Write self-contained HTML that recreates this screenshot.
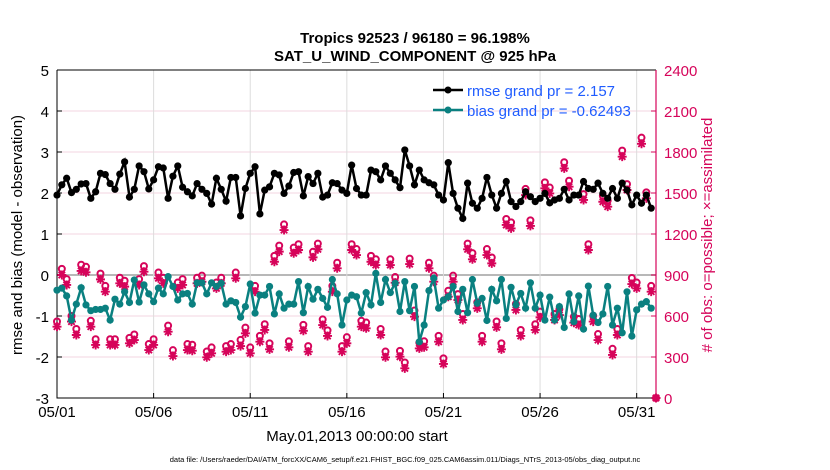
<!DOCTYPE html>
<html><head><meta charset="utf-8"><style>
body{margin:0;background:#fff;}
svg{display:block;font-family:"Liberation Sans",Arial,sans-serif;}
</style></head><body>
<svg id="chart" width="830" height="470" viewBox="0 0 830 470" xmlns="http://www.w3.org/2000/svg">
<rect width="830" height="470" fill="#fff"/>
<g id="grid"></g>
<g id="axes"></g>
<g id="series"></g>
<text x="415" y="43" text-anchor="middle" font-size="15" font-weight="bold">Tropics 92523 / 96180 = 96.198%</text>
<text x="415" y="61" text-anchor="middle" font-size="15" font-weight="bold">SAT_U_WIND_COMPONENT @ 925 hPa</text>
<text x="357" y="441" text-anchor="middle" font-size="15">May.01,2013 00:00:00 start</text>
<text transform="translate(22,235) rotate(-90)" text-anchor="middle" font-size="15">rmse and bias (model - observation)</text>
<text transform="translate(712,235) rotate(-90)" text-anchor="middle" font-size="15" fill="#d6045a">&#35; of obs: o=possible; &#215;=assimilated</text>
<text x="405" y="462" text-anchor="middle" font-size="7.5">data file: /Users/raeder/DAI/ATM_forcXX/CAM6_setup/f.e21.FHIST_BGC.f09_025.CAM6assim.011/Diags_NTrS_2013-05/obs_diag_output.nc</text>
<g id="legend">
<line x1="433" y1="90" x2="463" y2="90" stroke="#000" stroke-width="2.5"/>
<circle cx="448" cy="90" r="3.5" fill="#000"/>
<text x="467" y="96" font-size="15" fill="#1f5cff">rmse grand pr = 2.157</text>
<line x1="433" y1="110" x2="463" y2="110" stroke="#0a8080" stroke-width="2.5"/>
<circle cx="448" cy="110" r="3.5" fill="#0a8080"/>
<text x="467" y="116" font-size="15" fill="#1f5cff">bias grand pr = -0.62493</text>
</g>
</svg>
<script>
const rmse=[1.95,2.2,2.36,2.01,2.09,2.22,2.23,1.87,2.03,2.48,2.45,2.23,2.09,2.46,2.76,1.9,2.09,2.66,2.52,2.1,2.32,2.64,2.61,1.87,2.41,2.66,2.14,2.03,1.93,2.23,2.09,1.99,1.73,2.36,2.09,1.8,2.38,2.38,1.44,2.11,2.48,2.64,1.49,2.07,2.15,2.48,2.44,1.99,2.17,2.5,2.52,1.93,2.4,2.23,2.48,1.9,1.95,2.25,2.23,2.07,1.99,
2.68,2.11,1.95,1.95,2.56,2.52,2.32,2.66,2.48,2.32,2.13,3.05,2.66,2.2,2.56,2.32,2.25,2.2,1.95,1.83,2.74,1.99,1.63,1.38,2.24,1.75,1.63,1.87,2.38,1.95,1.63,1.99,2.28,1.79,1.67,1.79,2.03,1.91,1.79,1.87,1.99,1.76,1.83,1.87,2.09,1.83,1.95,1.95,2.28,2.11,2.09,2.24,1.99,1.87,2.11,1.87,2.24,2.07,1.71,1.95,1.75,1.95,1.63];
const bias=[-0.37,-0.32,-0.51,-1.1,-0.71,-0.31,-0.73,-0.87,-0.84,-0.84,-0.81,-1.1,-0.59,-0.71,-0.41,-0.67,-0.12,-0.66,-0.24,-0.46,-0.65,-0.32,-0.46,-0.04,-0.28,-0.61,-0.46,-0.45,-0.71,-0.19,-0.19,-0.46,-0.19,-0.28,-0.2,-0.71,-0.63,-0.67,-1.03,-0.77,-0.22,-0.93,-0.49,-0.49,-0.28,-0.95,-0.46,-0.81,-0.71,-0.71,-0.16,-0.92,-0.28,-0.59,-0.35,-0.57,-0.79,-0.11,-0.46,-1.22,-0.61,
-0.49,-0.53,-0.93,-0.43,-0.73,0.04,-0.67,-0.11,-0.43,-0.2,-0.89,-0.16,-0.87,-0.28,-1.63,-1.22,-0.38,-0.08,-0.81,-0.61,-0.53,-0.28,-0.89,-0.35,-0.92,-0.11,-0.69,-0.57,-1.11,-0.35,-0.63,-0.11,-1.06,-0.3,-0.73,-0.45,-0.81,-0.19,-0.81,-0.49,-1.1,-0.54,-1.1,-0.77,-1.28,-0.46,-1.14,-0.51,-1.32,-0.27,-0.98,-1.16,-0.95,-0.28,-1.22,-0.81,-1.41,-0.41,-1.49,-0.85,-0.71,-0.65,-0.81];
const nAssim=[522,900,827,559,461,930,920,522,388,868,778,388,388,839,815,400,424,827,924,351,388,876,839,485,307,802,827,351,346,839,851,298,327,802,839,339,351,876,380,473,327,778,412,498,356,997,1071,1229,371,1059,1083,492,339,1029,1088,534,454,778,949,339,400,
1083,1046,522,510,997,973,461,298,973,844,302,217,980,595,363,371,949,851,412,249,741,851,717,571,1088,1015,656,412,1046,985,517,356,1266,1241,644,454,1485,1259,498,590,1534,1497,571,607,1680,1546,551,534,1449,1083,559,424,1436,1400,315,461,1766,1522,834,802,1860,1461,778,0];
const nPoss=[560,945,870,600,505,975,960,565,430,910,820,430,430,880,858,440,465,870,965,395,430,918,880,530,350,845,870,395,390,880,895,340,370,845,880,380,395,918,425,515,370,820,455,540,400,1040,1115,1270,415,1100,1125,535,380,1070,1130,575,495,820,990,380,445,
1125,1090,565,552,1040,1015,505,340,1015,885,345,260,1020,640,405,415,990,895,455,290,785,895,760,615,1130,1060,700,455,1090,1028,560,400,1310,1285,688,498,1530,1300,540,632,1578,1540,615,650,1725,1590,595,578,1492,1125,602,468,1480,1445,360,505,1810,1565,878,845,1905,1505,820,0];
const rmseTicks=[-3,-2,-1,0,1,2,3,4,5];
const obsTicks=[0,300,600,900,1200,1500,1800,2100,2400];
const dateTicks=[0,5,10,15,20,25,30];
const dateLabels=["05/01","05/06","05/11","05/16","05/21","05/26","05/31"];
const stepDays=0.25;

const NS="http://www.w3.org/2000/svg";
const X0=57,X1=656,Y0=398,Y1=70;
const xS=d=>X0+(d/31)*(X1-X0);
const yL=v=>Y0-(v+3)/8*(Y0-Y1);
const yR=v=>Y0-v/2400*(Y0-Y1);
function mk(tag,attrs,parent){const e=document.createElementNS(NS,tag);for(const k in attrs)e.setAttribute(k,attrs[k]);parent.appendChild(e);return e;}
const grid=document.getElementById('grid'),axes=document.getElementById('axes'),ser=document.getElementById('series');
rmseTicks.forEach(t=>{
  const y=yL(t);
  const gl=mk('line',{x1:X0,x2:X1,y1:y,y2:y,stroke:t===0?'#b8b8b8':'#f3d6e0','stroke-width':t===0?2:1},grid);
  
  
  mk('line',{x1:X0,x2:X0+5,y1:y,y2:y,stroke:'#000'},axes);
  const tx=mk('text',{x:X0-8,y:y+6,'text-anchor':'end','font-size':15},axes);
  tx.textContent=t;
  
  
});
obsTicks.forEach(t=>{
  const y=yR(t);
  mk('line',{x1:X1-5,x2:X1,y1:y,y2:y,stroke:'#d6045a'},axes);
  const tx=mk('text',{x:X1+8,y:y+6,'font-size':15,fill:'#d6045a'},axes);
  tx.textContent=t;
  
  
});
dateTicks.forEach((d,i)=>{
  const x=xS(d);
  const gl=mk('line',{x1:x,x2:x,y1:Y1,y2:Y0,stroke:'#dcdcdc'},grid);
  
  
  mk('line',{x1:x,x2:x,y1:Y0,y2:Y0-5,stroke:'#000'},axes);
  const tx=mk('text',{x:x,y:417,'text-anchor':'middle','font-size':15},axes);
  tx.textContent=dateLabels[i];
  
  
});
const ax1=mk('path',{d:`M${X0},${Y1}V${Y0}H${X1}M${X0},${Y1}H${X1}`,stroke:'#000',fill:'none','stroke-width':1},axes);


const ax2=mk('line',{x1:X1,x2:X1,y1:Y1,y2:Y0,stroke:'#d6045a','stroke-width':1.2},axes);



const magenta='#d6045a';
nPoss.forEach((v,i)=>{
  const x=xS(i*stepDays),y=yR(v);
  const c=mk('circle',{cx:x,cy:y,r:3,fill:'none',stroke:magenta,'stroke-width':2},ser);
  
  
});
nAssim.forEach((v,i)=>{
  const x=xS(i*stepDays),y=yR(v),r=4.5;
  const p=mk('path',{d:`M${x-r},${y}H${x+r}M${x},${y-r}V${y+r}M${x-3.2},${y-3.2}L${x+3.2},${y+3.2}M${x-3.2},${y+3.2}L${x+3.2},${y-3.2}`,stroke:magenta,'stroke-width':1.9},ser);
  
  
});
function line(vals,color,name){
  const d=vals.map((v,i)=>(i?'L':'M')+xS(i*stepDays).toFixed(1)+','+yL(v).toFixed(1)).join('');
  const p=mk('path',{d:d,stroke:color,'stroke-width':2.5,fill:'none'},ser);
  
  
  vals.forEach((v,i)=>{
    const c=mk('circle',{cx:xS(i*stepDays),cy:yL(v),r:3.6,fill:color},ser);
    
    
  });
}
line(rmse,'#000','rmse');
line(bias,'#0a8080','bias');
</script>
</body></html>
